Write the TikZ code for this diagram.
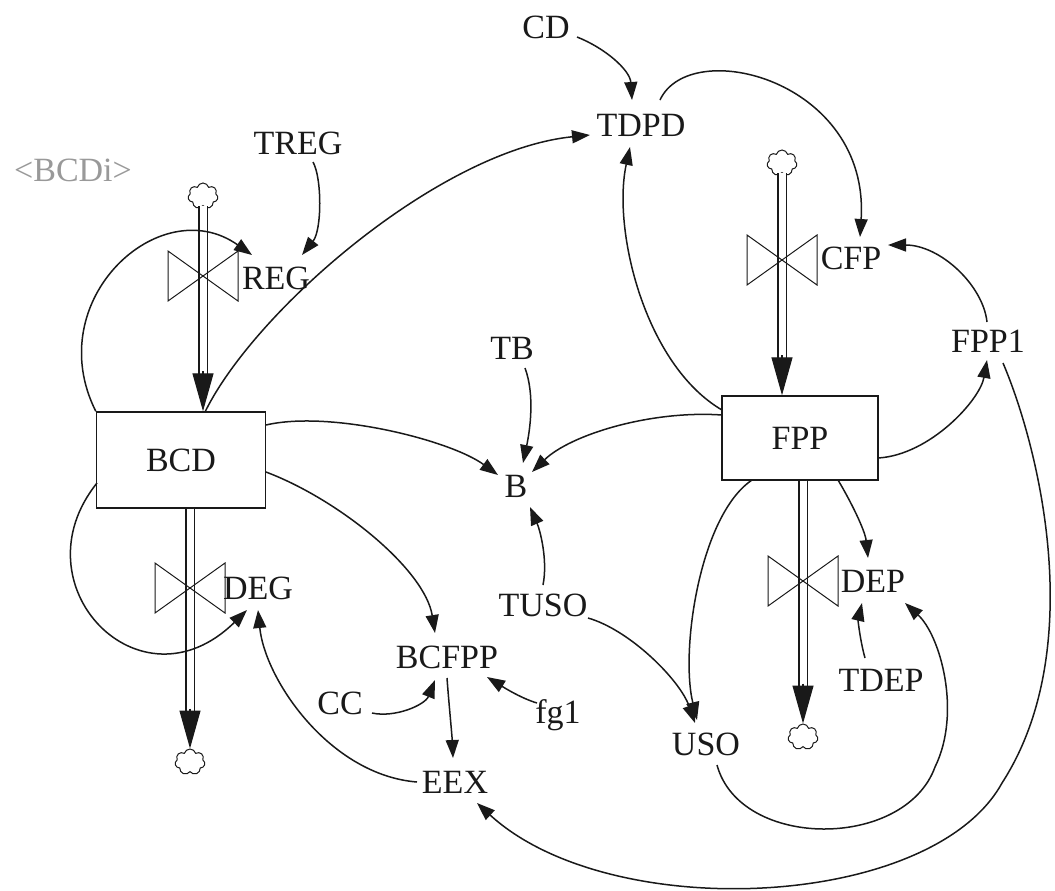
\documentclass[tikz,border=0pt]{standalone}
\usepackage{fontspec}
\setmainfont{Liberation Serif}
\usetikzlibrary{arrows.meta,shapes.symbols,calc}
\definecolor{ink}{gray}{0.1}
\definecolor{shade}{gray}{0.6}
\tikzset{
  lbl/.style={font=\fontsize{17}{20}\selectfont, text=ink, inner sep=1pt},
  stock/.style={lbl, draw=ink, line width=0.7pt, minimum width=84.5pt, minimum height=48pt},
  conn/.style={draw=ink, line width=0.75pt, -{Triangle[length=9pt,width=6.5pt]}},
  pipe/.style={draw=ink, double=white, double distance=3.5pt, line width=0.6pt},
  pipetip/.style={draw=ink, line width=0.6pt, -{Triangle[length=19pt,width=10.5pt]}},
  cloudic/.style={cloud, cloud puffs=7, draw=ink, line width=0.5pt, minimum width=15pt, minimum height=13pt, inner sep=0pt},
  valve/.pic={\draw[ink, line width=0.5pt] (-35,-25) -- (35,25) -- (35,-25) -- (-35,25) -- cycle;}
}
\begin{document}
\begin{tikzpicture}[x=0.5pt,y=-0.5pt]
\useasboundingbox (0,0) rectangle (1055,890);
% stocks
\node[stock] (BCD) at (181,460) {BCD};
\node[stock, minimum width=78pt, minimum height=42pt] (FPP) at (800,438) {FPP};
% clouds
\node[cloudic] (c1) at (203,196) {};
\node[cloudic] (c2) at (190,762) {};
\node[cloudic] (c3) at (782,163) {};
\node[cloudic] (c4) at (803,737) {};
% pipes
\draw[pipe, shorten >=18pt] (c1.south) -- (c1.south |- BCD.north);
\draw[pipetip] ($(c1.south |- BCD.north)+(0,-40)$) -- (c1.south |- BCD.north);
\draw[pipe, shorten >=18pt] (c2.north |- BCD.south) -- (c2.north);
\draw[pipetip] ($(c2.north)+(0,-40)$) -- (c2.north);
\draw[pipe, shorten >=18pt] (c3.south) -- (c3.south |- FPP.north);
\draw[pipetip] ($(c3.south |- FPP.north)+(0,-40)$) -- (c3.south |- FPP.north);
\draw[pipe, shorten >=18pt] (c4.north |- FPP.south) -- (c4.north);
\draw[pipetip] ($(c4.north)+(0,-40)$) -- (c4.north);
% valves
\pic at (203,276) {valve};
\pic at (190,588) {valve};
\pic at (782,260) {valve};
\pic at (803,581) {valve};
% labels
\node[lbl, text=shade] (BCDi) at (73,170) {<BCDi>};
\node[lbl] (TREG) at (298,143) {TREG};
\node[lbl] (REGt) at (276,278) {REG};
\node[lbl] (DEGt) at (258,588) {DEG};
\node[lbl] (BCFPP) at (447,657) {BCFPP};
\node[lbl] (CC) at (340,703) {CC};
\node[lbl] (EEX) at (455,782) {EEX};
\node[lbl] (fg1) at (558,715) {fg1};
\node[lbl] (TUSO) at (543,605) {TUSO};
\node[lbl] (USO) at (706,744) {USO};
\node[lbl] (B) at (516,486) {B};
\node[lbl] (TB) at (512,348) {TB};
\node[lbl] (TDPD) at (641,125) {TDPD};
\node[lbl] (CD) at (546,27) {CD};
\node[lbl] (CFPt) at (851,258) {CFP};
\node[lbl] (FPP1) at (988,341) {FPP1};
\node[lbl] (DEPt) at (873,581) {DEP};
\node[lbl] (TDEP) at (881,680) {TDEP};
% connectors
\draw[conn] ($(TREG)+(15,19)$) .. controls (322,178) and (322,230) .. ($(REGt)+(26,-23)$);
\draw[conn] (BCD.north west) .. controls (40,300) and (160,190) .. ($(REGt)+(-24,-23)$);
\draw[conn] ($(BCD)+(24,-48)$) .. controls (255,310) and (440,150) .. ($(TDPD)+(-51,10)$);
\draw[conn] ($(CD)+(31,10)$) .. controls (605,48) and (630,70) .. ($(TDPD)+(-9,-25)$);
\draw[conn] ($(TDPD)+(19,-25)$) .. controls (690,35) and (870,80) .. ($(CFPt)+(9,-21)$);
\draw[conn] ($(FPP)+(-78,-28)$) .. controls (645,365) and (612,230) .. ($(TDPD)+(-11,22)$);
\draw[conn] ($(FPP1)+(-1,-19)$) .. controls (983,285) and (940,245) .. ($(CFPt)+(37,-13)$);
\draw[conn] ($(FPP)+(78,20)$) .. controls (930,455) and (980,400) .. ($(FPP1)+(-1,19)$);
\draw[conn] ($(FPP1)+(15,22)$) .. controls (1040,450) and (1088,650) .. (1002,783) .. controls (932,910) and (610,925) .. ($(EEX)+(22,21)$);
\draw[conn] ($(BCD)+(85,-35)$) .. controls (330,410) and (450,440) .. ($(B)+(-18,-11)$);
\draw[conn] ($(TB)+(13,20)$) .. controls (535,395) and (530,430) .. ($(B)+(7,-23)$);
\draw[conn] ($(FPP)+(-78,-23)$) .. controls (650,410) and (570,435) .. ($(B)+(16,-14)$);
\draw[conn] ($(TUSO)+(0,-20)$) .. controls (548,560) and (540,530) .. ($(B)+(14,21)$);
\draw[conn] ($(BCD)+(85,12)$) .. controls (340,500) and (425,570) .. ($(BCFPP)+(-12,-24)$);
\draw[conn] ($(CC)+(32,10)$) .. controls (395,718) and (425,705) .. ($(BCFPP)+(-12,23)$);
\draw[conn] ($(fg1)+(-21,-12)$) .. controls (520,698) and (500,685) .. ($(BCFPP)+(40,20)$);
\draw[conn] ($(BCFPP)+(0,21)$) .. controls (449,705) and (452,735) .. ($(EEX)+(-2,-24)$);
\draw[conn] ($(EEX)+(-38,0)$) .. controls (330,775) and (265,680) .. ($(DEGt)+(0,22)$);
\draw[conn] ($(BCD)+(-84,23)$) .. controls (15,585) and (140,715) .. ($(DEGt)+(-11,22)$);
\draw[conn] ($(TUSO)+(45,13)$) .. controls (630,630) and (680,680) .. ($(USO)+(-11,-21)$);
\draw[conn] ($(FPP)+(-48,42)$) .. controls (700,515) and (680,650) .. ($(USO)+(-9,-24)$);
\draw[conn] ($(FPP)+(38,42)$) .. controls (850,500) and (865,530) .. ($(DEPt)+(-5,-23)$);
\draw[conn] ($(TDEP)+(-16,-22)$) .. controls (860,640) and (858,620) .. ($(DEPt)+(-11,22)$);
\draw[conn] ($(USO)+(11,21)$) .. controls (740,850) and (905,850) .. (935,767) .. controls (962,712) and (940,635) .. ($(DEPt)+(32,22)$);
\end{tikzpicture}
\end{document}
